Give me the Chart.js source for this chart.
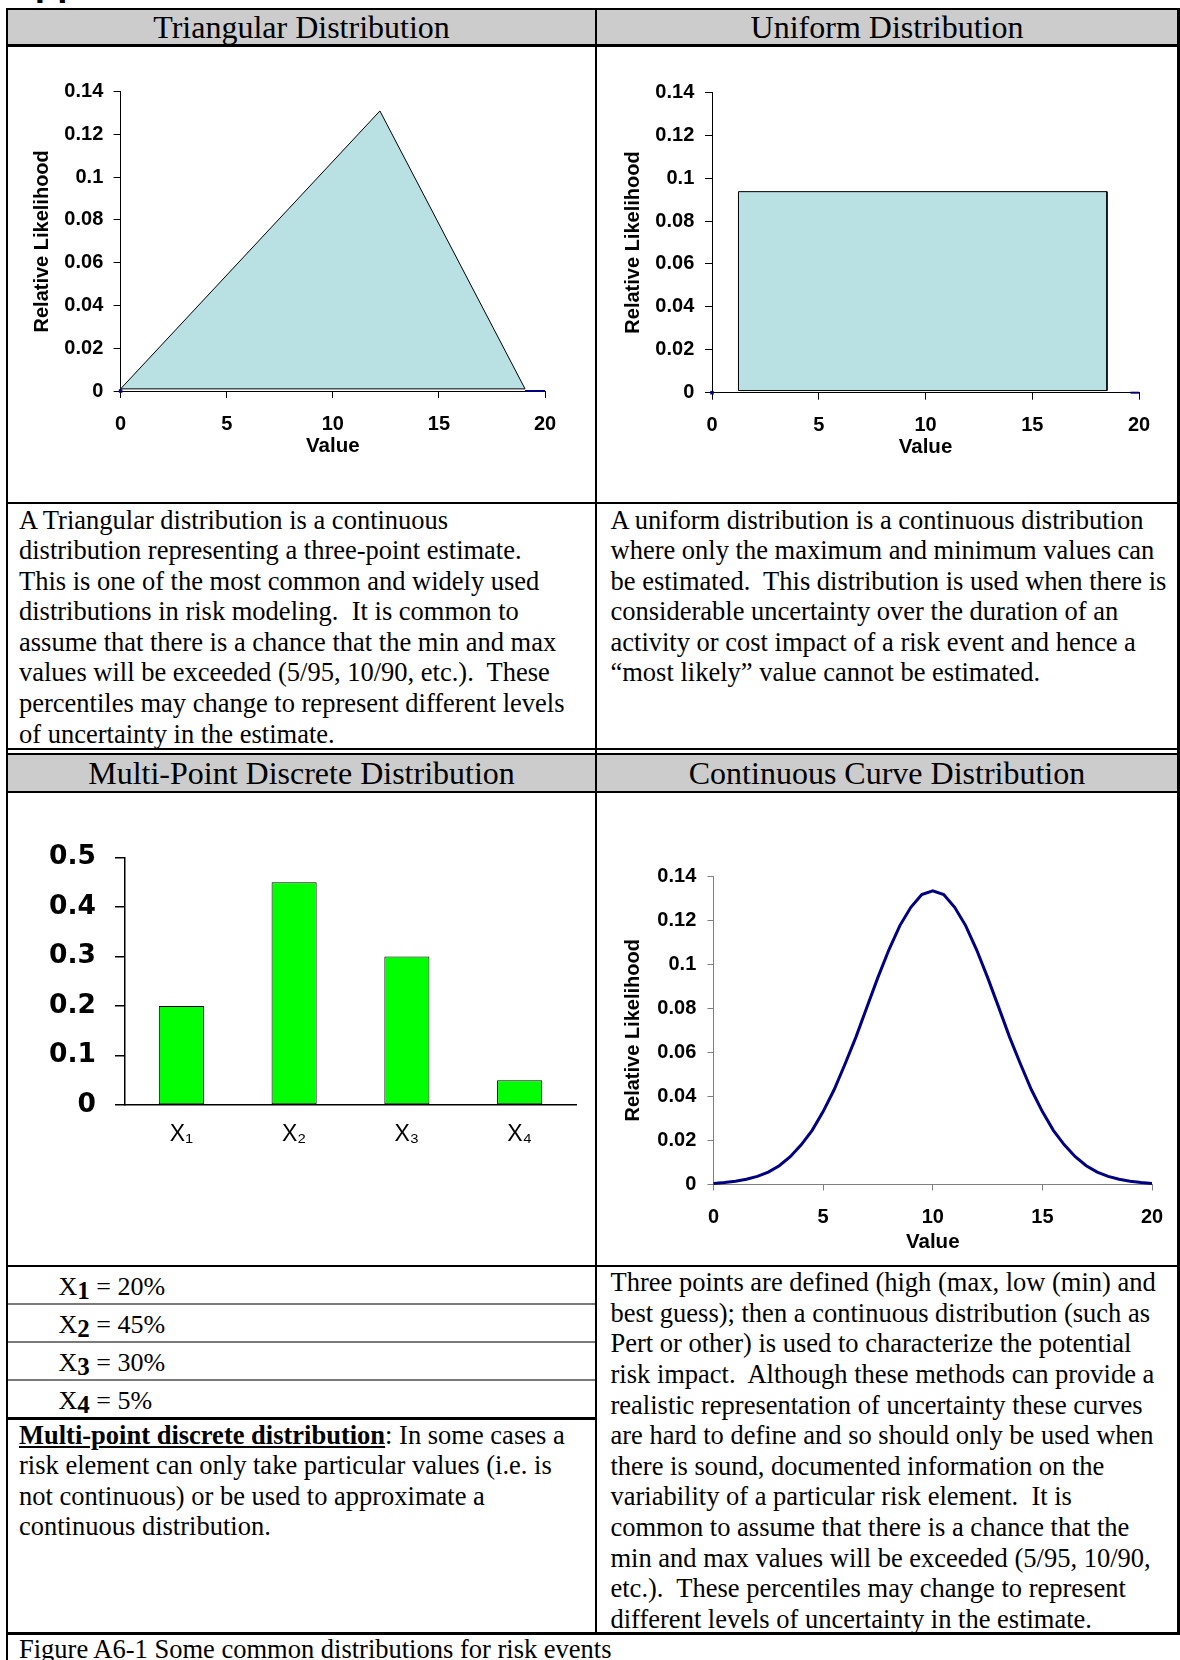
<!DOCTYPE html>
<html>
<head>
<meta charset="utf-8">
<script src="https://cdn.jsdelivr.net/npm/chart.js@4.4.0/dist/chart.umd.min.js"></script>
<style>
html,body{margin:0;padding:0;background:#fff;}
body{width:1180px;height:1660px;position:relative;overflow:hidden;}
.ln{position:absolute;background:#000;z-index:5;}
.gl{position:absolute;background:#7a7a7a;z-index:5;}
.bg{position:absolute;background:#cccccc;z-index:0;}
.txt{position:absolute;font-family:'Liberation Serif','Times New Roman',serif;font-size:26.5px;line-height:30.6px;white-space:pre;color:#000;z-index:3;}
.hd{position:absolute;font-family:'Liberation Serif','Times New Roman',serif;font-size:32px;line-height:32px;white-space:pre;text-align:center;color:#000;z-index:3;}
.xr{position:absolute;font-family:'Liberation Serif','Times New Roman',serif;font-size:26px;line-height:26px;white-space:pre;color:#000;z-index:3;}
.xr b{position:relative;top:4px;font-size:25px;}
canvas{position:absolute;z-index:2;}
.top{position:absolute;left:8px;top:-36px;font-family:'Liberation Sans',Arial,sans-serif;font-weight:bold;font-size:37px;line-height:37px;white-space:pre;}
</style>
</head>
<body>
<div class="top">Appendix</div>

<div class="bg" style="left:8px;top:10px;width:1169px;height:34px;"></div>
<div class="bg" style="left:8px;top:755px;width:1169px;height:35.5px;"></div>

<div class="ln" style="left:5.5px;top:7.5px;width:1174.5px;height:2.5px;"></div>
<div class="ln" style="left:5.5px;top:44px;width:1174.5px;height:2.5px;"></div>
<div class="ln" style="left:5.5px;top:501.5px;width:1174.5px;height:2.5px;"></div>
<div class="ln" style="left:5.5px;top:747.5px;width:1174.5px;height:2.5px;"></div>
<div class="ln" style="left:5.5px;top:753px;width:1174.5px;height:2px;"></div>
<div class="ln" style="left:5.5px;top:790.5px;width:1174.5px;height:2.5px;"></div>
<div class="ln" style="left:5.5px;top:1264.5px;width:1174.5px;height:2.5px;"></div>
<div class="ln" style="left:5.5px;top:1632px;width:1174.5px;height:2.5px;"></div>
<div class="gl" style="left:8px;top:1303px;width:587px;height:1.5px;"></div>
<div class="gl" style="left:8px;top:1341px;width:587px;height:1.5px;"></div>
<div class="gl" style="left:8px;top:1379px;width:587px;height:1.5px;"></div>
<div class="ln" style="left:5.5px;top:1417px;width:590px;height:2.5px;"></div>
<div class="ln" style="left:5.5px;top:7.5px;width:2.5px;height:1653px;"></div>
<div class="ln" style="left:595px;top:7.5px;width:2px;height:1626px;"></div>
<div class="ln" style="left:1177px;top:7.5px;width:2.5px;height:1627px;"></div>

<div class="hd" style="left:8px;width:587px;top:10.5px;">Triangular Distribution</div>
<div class="hd" style="left:597px;width:580px;top:10.5px;">Uniform Distribution</div>
<div class="hd" style="left:8px;width:587px;top:756.5px;">Multi-Point Discrete Distribution</div>
<div class="hd" style="left:597px;width:580px;top:756.5px;">Continuous Curve Distribution</div>

<div class="txt" style="left:19px;top:504.5px;">A Triangular distribution is a continuous
distribution representing a three-point estimate.
This is one of the most common and widely used
distributions in risk modeling.  It is common to
assume that there is a chance that the min and max
values will be exceeded (5/95, 10/90, etc.).  These
percentiles may change to represent different levels
of uncertainty in the estimate.</div>
<div class="txt" style="left:610.5px;top:504.5px;">A uniform distribution is a continuous distribution
where only the maximum and minimum values can
be estimated.  This distribution is used when there is
considerable uncertainty over the duration of an
activity or cost impact of a risk event and hence a
“most likely” value cannot be estimated.</div>

<div class="xr" style="left:58.5px;top:1274.2px;">X<b>1</b> = 20%</div>
<div class="xr" style="left:58.5px;top:1312.2px;">X<b>2</b> = 45%</div>
<div class="xr" style="left:58.5px;top:1350.2px;">X<b>3</b> = 30%</div>
<div class="xr" style="left:58.5px;top:1388.2px;">X<b>4</b> = 5%</div>

<div class="txt" style="left:19px;top:1419.5px;"><b><u>Multi-point discrete distribution</u></b>: In some cases a
risk element can only take particular values (i.e. is
not continuous) or be used to approximate a
continuous distribution.</div>
<div class="txt" style="left:610.5px;top:1267.3px;">Three points are defined (high (max, low (min) and
best guess); then a continuous distribution (such as
Pert or other) is used to characterize the potential
risk impact.  Although these methods can provide a
realistic representation of uncertainty these curves
are hard to define and so should only be used when
there is sound, documented information on the
variability of a particular risk element.  It is
common to assume that there is a chance that the
min and max values will be exceeded (5/95, 10/90,
etc.).  These percentiles may change to represent
different levels of uncertainty in the estimate.</div>
<div class="txt" style="left:19px;top:1633.5px;">Figure A6-1 Some common distributions for risk events</div>

<canvas id="c1" width="586" height="455" style="left:9px;top:48px;width:586px;height:455px;"></canvas>
<canvas id="c2" width="582" height="455" style="left:598px;top:48px;width:582px;height:455px;"></canvas>
<canvas id="c3" width="586" height="471" style="left:9px;top:794px;width:586px;height:471px;"></canvas>
<canvas id="c4" width="582" height="471" style="left:598px;top:794px;width:582px;height:471px;"></canvas>

<script>
// ---- Data ----
const triX = [0, 12.22, 19.06, 0];
const triY = [0.001, 0.131, 0.001, 0.001];
const triTailX = [19.06, 20];
const triTailY = [0, 0];
const uniX = [1.24, 1.24, 18.5, 18.5, 1.24];
const uniY = [0.001, 0.0937, 0.0937, 0.001, 0.001];
const uniTailX = [19.6, 20];
const uniTailY = [0, 0];
const originX = [0];
const originY = [0];
const barLabels = ['X\u2081', 'X\u2082', 'X\u2083', 'X\u2084'];
const barValues = [0.2, 0.45, 0.3, 0.05];
const curveX = [0, 0.5, 1, 1.5, 2, 2.5, 3, 3.5, 4, 4.5, 5, 5.5, 6, 6.5, 7, 7.5, 8, 8.5, 9, 9.5, 10,
                10.5, 11, 11.5, 12, 12.5, 13, 13.5, 14, 14.5, 15, 15.5, 16, 16.5, 17, 17.5, 18, 18.5, 19, 19.5, 20];
const curveY = [0.0005, 0.0009, 0.0015, 0.0024, 0.0037, 0.0056, 0.0085, 0.0126, 0.0180, 0.0246, 0.0331,
                0.0430, 0.0547, 0.0670, 0.0806, 0.0940, 0.1065, 0.1175, 0.1258, 0.1316, 0.1333,
                0.1316, 0.1258, 0.1175, 0.1065, 0.0940, 0.0806, 0.0670, 0.0547, 0.0430, 0.0331,
                0.0246, 0.0180, 0.0126, 0.0085, 0.0056, 0.0037, 0.0024, 0.0015, 0.0009, 0.0005];
const xTitle = 'Value';
const yTitle = 'Relative Likelihood';

// ---- Helpers ----
function pts(xs, ys) { return xs.map((x, i) => ({x: x, y: ys[i]})); }
const SANS = "'Liberation Sans', Arial, sans-serif";
function shortNum(v) { return String(Math.round(v * 1000) / 1000); }

function distOptions(p) {
  return {
    responsive: false, animation: false, devicePixelRatio: 1,
    layout: {padding: {top: p.top, right: p.right, bottom: p.bottom, left: p.left}},
    plugins: {legend: {display: false}, tooltip: {enabled: false}},
    scales: {
      x: {
        type: 'linear', min: 0, max: 20,
        ticks: {stepSize: 5, padding: p.xPad, color: '#000', font: {family: SANS, size: 20, weight: 'bold'}},
        grid: {drawOnChartArea: false, tickLength: p.tl, color: p.axisColor},
        border: {color: p.axisColor, width: 1},
        title: {display: true, text: xTitle, padding: 0, color: '#000', font: {family: SANS, size: 20.5, weight: 'bold'}},
        afterFit: function(s) { s.height = p.xH; }
      },
      y: {
        min: 0, max: 0.14,
        ticks: {stepSize: 0.02, padding: p.yPad, color: '#000', font: {family: SANS, size: 20, weight: 'bold'}, callback: shortNum},
        grid: {drawOnChartArea: false, tickLength: p.tl, color: p.axisColor},
        border: {color: p.axisColor, width: 1},
        title: {display: true, text: yTitle, padding: 0, color: '#000', font: {family: SANS, size: 20, weight: 'bold'}},
        afterFit: function(s) { s.width = p.yW; }
      }
    }
  };
}

// ---- Chart 1: Triangular ----
new Chart(document.getElementById('c1'), {
  type: 'line',
  data: {datasets: [
    {data: pts(triX, triY), fill: 'shape', backgroundColor: '#b9e0e3', borderColor: '#000', borderWidth: 1, pointRadius: 0, tension: 0},
    {data: pts(triTailX, triTailY), borderColor: '#000080', borderWidth: 2, pointRadius: 0, fill: false, clip: false},
    {data: pts(originX, originY), showLine: false, pointStyle: 'rect', pointRadius: 2.5, backgroundColor: '#000080', borderColor: '#000080', borderWidth: 0, clip: false}
  ]},
  options: distOptions({top: 43.7, right: 50, bottom: 44.8, left: 21.1, xH: 67.2, yW: 90.5, xPad: 14, yPad: 10.3, tl: 7, axisColor: '#000'})
});

// ---- Chart 2: Uniform ----
new Chart(document.getElementById('c2'), {
  type: 'line',
  data: {datasets: [
    {data: pts(uniX, uniY), fill: 'shape', backgroundColor: '#b9e0e3', borderColor: '#000', borderWidth: 1, pointRadius: 0, tension: 0},
    {data: pts(uniTailX, uniTailY), borderColor: '#000080', borderWidth: 2, pointRadius: 0, fill: false, clip: false},
    {data: pts(originX, originY), showLine: false, pointStyle: 'rect', pointRadius: 2.5, backgroundColor: '#000080', borderColor: '#000080', borderWidth: 0, clip: false}
  ]},
  options: distOptions({top: 44.3, right: 41, bottom: 43.8, left: 23.1, xH: 66.5, yW: 90.9, xPad: 13.5, yPad: 10.7, tl: 7, axisColor: '#000'})
});

// ---- Chart 3: Multi-point discrete ----
new Chart(document.getElementById('c3'), {
  type: 'bar',
  data: {labels: barLabels, datasets: [
    {data: barValues, backgroundColor: '#00ff00', borderColor: '#000', borderWidth: 1, borderSkipped: false, barPercentage: 0.4, categoryPercentage: 1}
  ]},
  options: {
    responsive: false, animation: false, devicePixelRatio: 1,
    layout: {padding: {top: 63.5, right: 19, bottom: 0, left: 0}},
    plugins: {legend: {display: false}, tooltip: {enabled: false}},
    scales: {
      x: {
        grid: {display: false},
        border: {color: '#000', width: 1.5},
        ticks: {padding: 8, color: '#000', font: {family: "'Liberation Sans', 'DejaVu Sans', Arial, sans-serif", size: 23}},
        afterFit: function(s) { s.height = 160; }
      },
      y: {
        min: 0, max: 0.5,
        ticks: {stepSize: 0.1, padding: 19, color: '#000', font: {family: "'DejaVu Sans', sans-serif", size: 26.5, weight: 'bold'}},
        grid: {drawOnChartArea: false, tickLength: 10, color: '#000', lineWidth: 1.5},
        border: {color: '#000', width: 1.5},
        afterFit: function(s) { s.width = 116; }
      }
    }
  }
});

// ---- Chart 4: Continuous curve ----
new Chart(document.getElementById('c4'), {
  type: 'line',
  data: {datasets: [
    {data: pts(curveX, curveY), borderColor: '#000080', borderWidth: 3, pointRadius: 0, fill: false, tension: 0, clip: false}
  ]},
  options: distOptions({top: 82, right: 28, bottom: 10.3, left: 23.6, xH: 70.2, yW: 91.9, xPad: 15, yPad: 11.2, tl: 6, axisColor: '#7f7f7f'})
});
</script>
</body>
</html>
